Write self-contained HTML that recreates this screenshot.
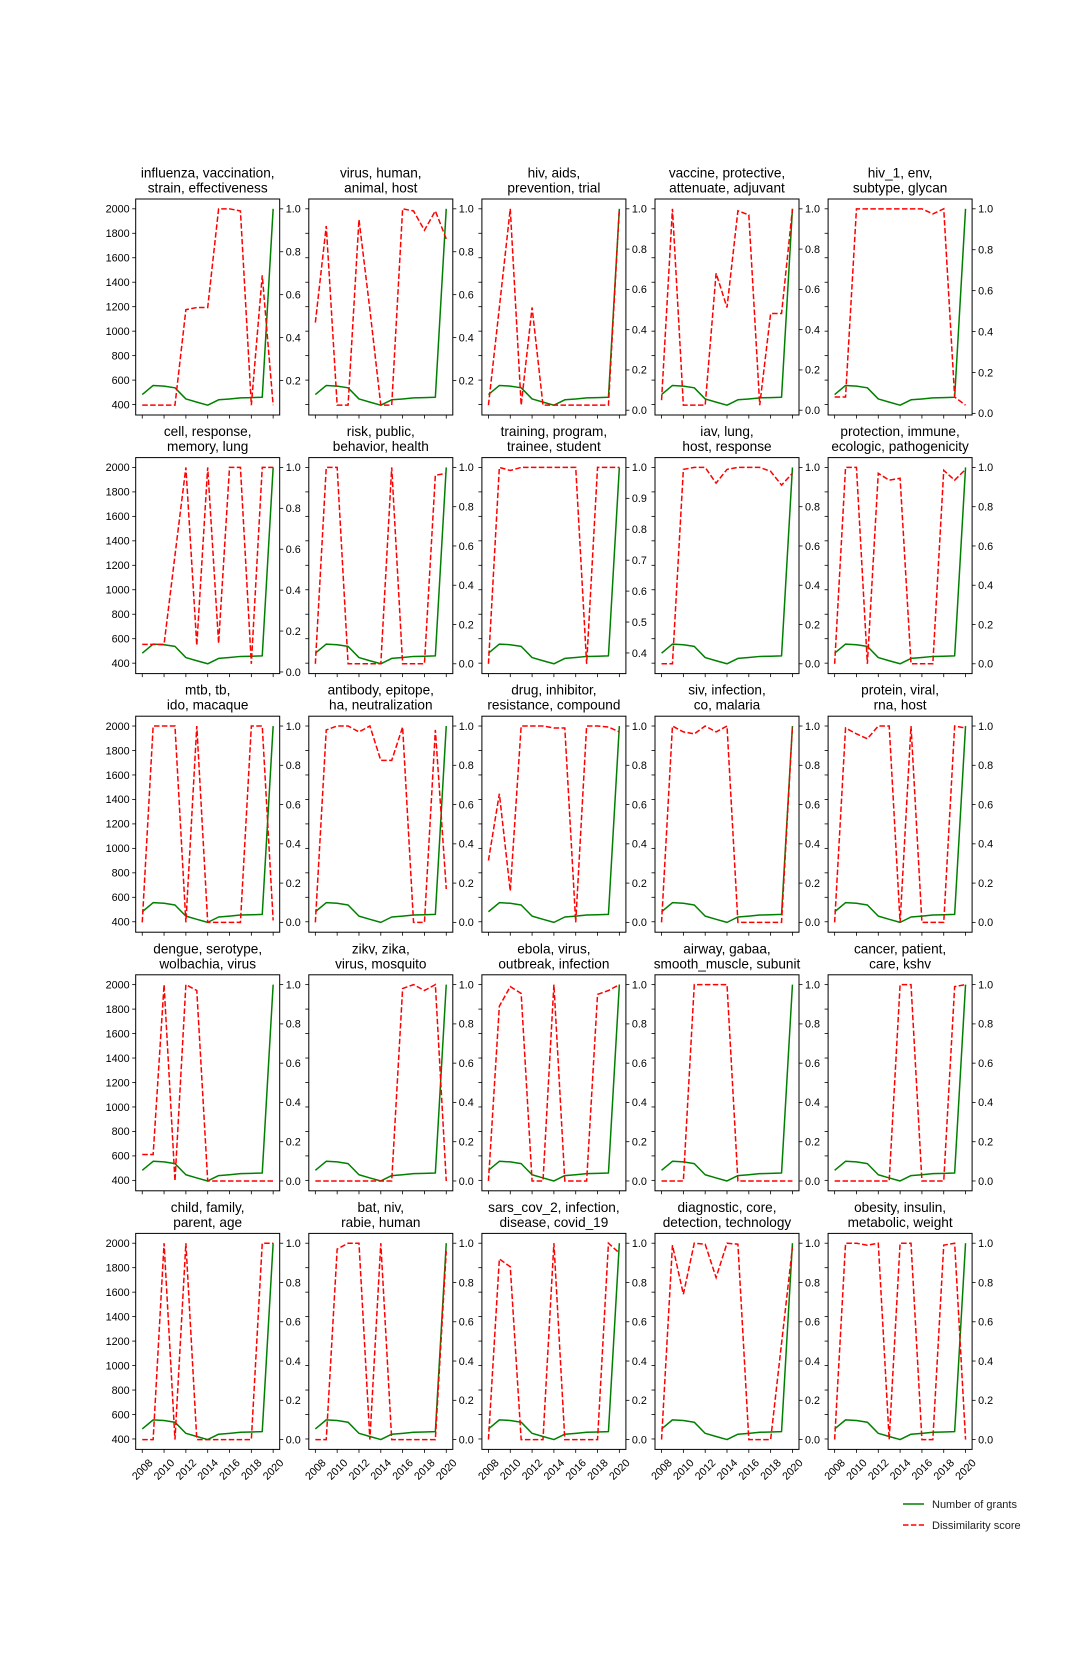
<!DOCTYPE html>
<html><head><meta charset="utf-8"><style>
html,body{margin:0;padding:0;background:#fff;}
svg{display:block;font-family:"Liberation Sans","DejaVu Sans",sans-serif;}
</style></head><body>
<svg id="fig" width="1080" height="1656" viewBox="0 0 1080 1656" xmlns="http://www.w3.org/2000/svg">
<rect width="1080" height="1656" fill="#fff"/>
</svg>
<script>
const years = [2008,2009,2010,2011,2012,2013,2014,2015,2016,2017,2018,2019,2020];
const grants = [482,556,551,537,446,420,395,439,446,455,457,460,2000];
const grantTicks = [400,600,800,1000,1200,1400,1600,1800,2000];
const yearTicks = [2008,2010,2012,2014,2016,2018,2020];
const titles = [
 ["influenza, vaccination,","strain, effectiveness"],["virus, human,","animal, host"],["hiv, aids,","prevention, trial"],["vaccine, protective,","attenuate, adjuvant"],["hiv_1, env,","subtype, glycan"],
 ["cell, response,","memory, lung"],["risk, public,","behavior, health"],["training, program,","trainee, student"],["iav, lung,","host, response"],["protection, immune,","ecologic, pathogenicity"],
 ["mtb, tb,","ido, macaque"],["antibody, epitope,","ha, neutralization"],["drug, inhibitor,","resistance, compound"],["siv, infection,","co, malaria"],["protein, viral,","rna, host"],
 ["dengue, serotype,","wolbachia, virus"],["zikv, zika,","virus, mosquito"],["ebola, virus,","outbreak, infection"],["airway, gabaa,","smooth_muscle, subunit"],["cancer, patient,","care, kshv"],
 ["child, family,","parent, age"],["bat, niv,","rabie, human"],["sars_cov_2, infection,","disease, covid_19"],["diagnostic, core,","detection, technology"],["obesity, insulin,","metabolic, weight"]
];
const s0=[0.085,0.085,0.085,0.085,0.53,0.54,0.54,1.0,1.0,0.99,0.085,0.69,0.085];
const s1=[0.47,0.92,0.085,0.085,0.95,0.53,0.085,0.085,1.0,0.99,0.9,0.99,0.86];
const s2=[0.025,0.51,1.0,0.025,0.51,0.025,0.025,0.025,0.025,0.025,0.025,0.025,1.0];
const s3=[0.05,1.0,0.025,0.025,0.025,0.68,0.51,0.99,0.97,0.025,0.48,0.48,1.0];
const s4=[0.08,0.08,1.0,1.0,1.0,1.0,1.0,1.0,1.0,0.975,1.0,0.08,0.04];
const s5=[0.135,0.135,0.135,0.57,1.0,0.13,1.0,0.14,1.0,1.0,0.04,1.0,1.0];
const s6=[0,1.0,1.0,0,0,0,0,1.0,0,0,0,0.96,0.97];
const s7=[0.365,1.0,0.99,1.0,1.0,1.0,1.0,1.0,1.0,0.365,1.0,1.0,1.0];
const s8=[0,0,0.99,1.0,1.0,0.92,0.99,1.0,1.0,1.0,0.98,0.91,0.97];
const s9=[0,1.0,1.0,0,0.97,0.935,0.945,0,0,0,0.985,0.935,0.99];
const s10=[0,1.0,1.0,1.0,0,1.0,0,0,0,0,1.0,1.0,0.01];
const s11=[0,0.98,1.0,1.0,0.97,1.0,0.825,0.825,0.995,0,0,0.98,0.17];
const s12=[0.315,0.655,0.16,1.0,1.0,1.0,0.99,0.99,0,1.0,1.0,0.995,0.97];
const s13=[0,1.0,0.97,0.96,1.0,0.97,1.0,0,0,0,0,0,1.0];
const s14=[0,0.99,0.96,0.935,1.0,1.0,0,1.0,0,0,0,1.0,0.99];
const s15=[0.135,0.135,1.0,0,1.0,0.97,0,0,0,0,0,0,0];
const s16=[0,0,0,0,0,0,0,0,0.98,1.0,0.97,1.0,0];
const s17=[0,0.89,0.99,0.955,0,0,1.0,0,0,0,0.95,0.97,1.0];
const s18=[0,0,0,1.0,1.0,1.0,1.0,0,0,0,0,0,0];
const s19=[0,0,0,0,0,0,1.0,1.0,0,0,0,0.99,1.0];
const s20=[0,0,1.0,0,1.0,0,0,0,0,0,0,1.0,1.0];
const s21=[0,0,0.97,1.0,1.0,0,1.0,0,0,0,0,0,0.96];
const s22=[0,0.92,0.88,0,0,0,1.0,0,0,0,0,1.0,0.95];
const s23=[0,0.99,0.74,1.0,0.995,0.825,1.0,0.995,0,0,0,0.49,0.98];
const s24=[0,1.0,1.0,0.99,1.0,0,1.0,1.0,0,0,0.99,1.0,0];
const dissim=[s0,s1,s2,s3,s4,s5,s6,s7,s8,s9,s10,s11,s12,s13,s14,s15,s16,s17,s18,s19,s20,s21,s22,s23,s24];

const NS="http://www.w3.org/2000/svg";
const svg=document.getElementById('fig');
function mk(tag,attrs,parent){const e=document.createElementNS(NS,tag);for(const k in attrs)e.setAttribute(k,attrs[k]);(parent||svg).appendChild(e);return e;}
const W=144,H=216,TF='10.8',TT='13.6';
const gmin=Math.min(...grants),gmax=Math.max(...grants),gpad=(gmax-gmin)*0.05;
const xmin=years[0],xmax=years[years.length-1],xpad=(xmax-xmin)*0.05;

for(let i=0;i<25;i++){
  const r=Math.floor(i/5),c=i%5;
  const L=135.7+c*173.1,T=199+r*258.6;
  const g=mk('g',{});
  
  
  const xs=v=>L+(v-(xmin-xpad))/((xmax+xpad)-(xmin-xpad))*W;
  const yl=v=>T+H-(v-(gmin-gpad))/((gmax+gpad)-(gmin-gpad))*H;
  const d=dissim[i];
  const rmn=Math.min(...d),rmx=Math.max(...d),rp=(rmx-rmn)*0.05;
  const lo=rmn-rp,hi=rmx+rp;
  const yr=v=>T+H-(v-lo)/(hi-lo)*H;
  const t=mk('text',{x:L+W/2,y:T-21,'text-anchor':'middle','font-size':TT,fill:'#000'},g);
  
  
  mk('tspan',{x:L+W/2,y:T-21.5},t).textContent=titles[i][0];
  mk('tspan',{x:L+W/2,y:T-6.5},t).textContent=titles[i][1];
  const gp=grants.map((v,k)=>(k?'L':'M')+xs(years[k]).toFixed(2)+' '+yl(v).toFixed(2)).join(' ');
  const gl=mk('path',{d:gp,fill:'none',stroke:'#008000','stroke-width':1.5,'stroke-linejoin':'round'},g);
  
  
  const rpth=d.map((v,k)=>(k?'L':'M')+xs(years[k]).toFixed(2)+' '+yr(v).toFixed(2)).join(' ');
  const rl=mk('path',{d:rpth,fill:'none',stroke:'#ff0000','stroke-width':1.5,'stroke-dasharray':'5.5 2.4'},g);
  
  
  const fr=mk('rect',{x:L,y:T,width:W,height:H,fill:'none',stroke:'#000','stroke-width':1},g);
  
  
  grantTicks.forEach(v=>{
    const y=yl(v);
    mk('line',{x1:L-3.5,x2:L,y1:y,y2:y,stroke:'#000','stroke-width':0.8},g);
    if(c===0){
      const tl=mk('text',{x:L-6,y:y+3.8,'text-anchor':'end','font-size':TF,fill:'#000'},g);
      
      
      tl.textContent=v;
    }
  });
  const step=(hi-lo)<0.75?0.1:0.2;
  for(let k=Math.ceil(lo/step-1e-6);k<=Math.floor(hi/step+1e-6);k++){
    const v=k*step,y=yr(v);
    mk('line',{x1:L+W,x2:L+W+3.5,y1:y,y2:y,stroke:'#000','stroke-width':0.8},g);
    const tl=mk('text',{x:L+W+6,y:y+3.8,'font-size':TF,fill:'#000'},g);
    
    
    tl.textContent=v.toFixed(1);
  }
  yearTicks.forEach(v=>{
    const x=xs(v);
    mk('line',{x1:x,x2:x,y1:T+H,y2:T+H+3.5,stroke:'#000','stroke-width':0.8},g);
    if(r===4){
      const cy=T+H+20;
      const tl=mk('text',{x:x,y:cy+3.7,'text-anchor':'middle','font-size':TF,fill:'#000',transform:'rotate(-45 '+x+' '+cy+')'},g);
      
      
      tl.textContent=v;
    }
  });
}
const lg=mk('g',{});


const e1=mk('g',{},lg);


mk('line',{x1:903,x2:924,y1:1504,y2:1504,stroke:'#008000','stroke-width':1.5},e1);
mk('text',{x:932,y:1508,'font-size':'11',fill:'#222'},e1).textContent='Number of grants';
const e2=mk('g',{},lg);


mk('line',{x1:903,x2:924,y1:1525,y2:1525,stroke:'#ff0000','stroke-width':1.5,'stroke-dasharray':'5.5 2.4'},e2);
mk('text',{x:932,y:1529,'font-size':'11',fill:'#222'},e2).textContent='Dissimilarity score';
</script>
</body></html>
